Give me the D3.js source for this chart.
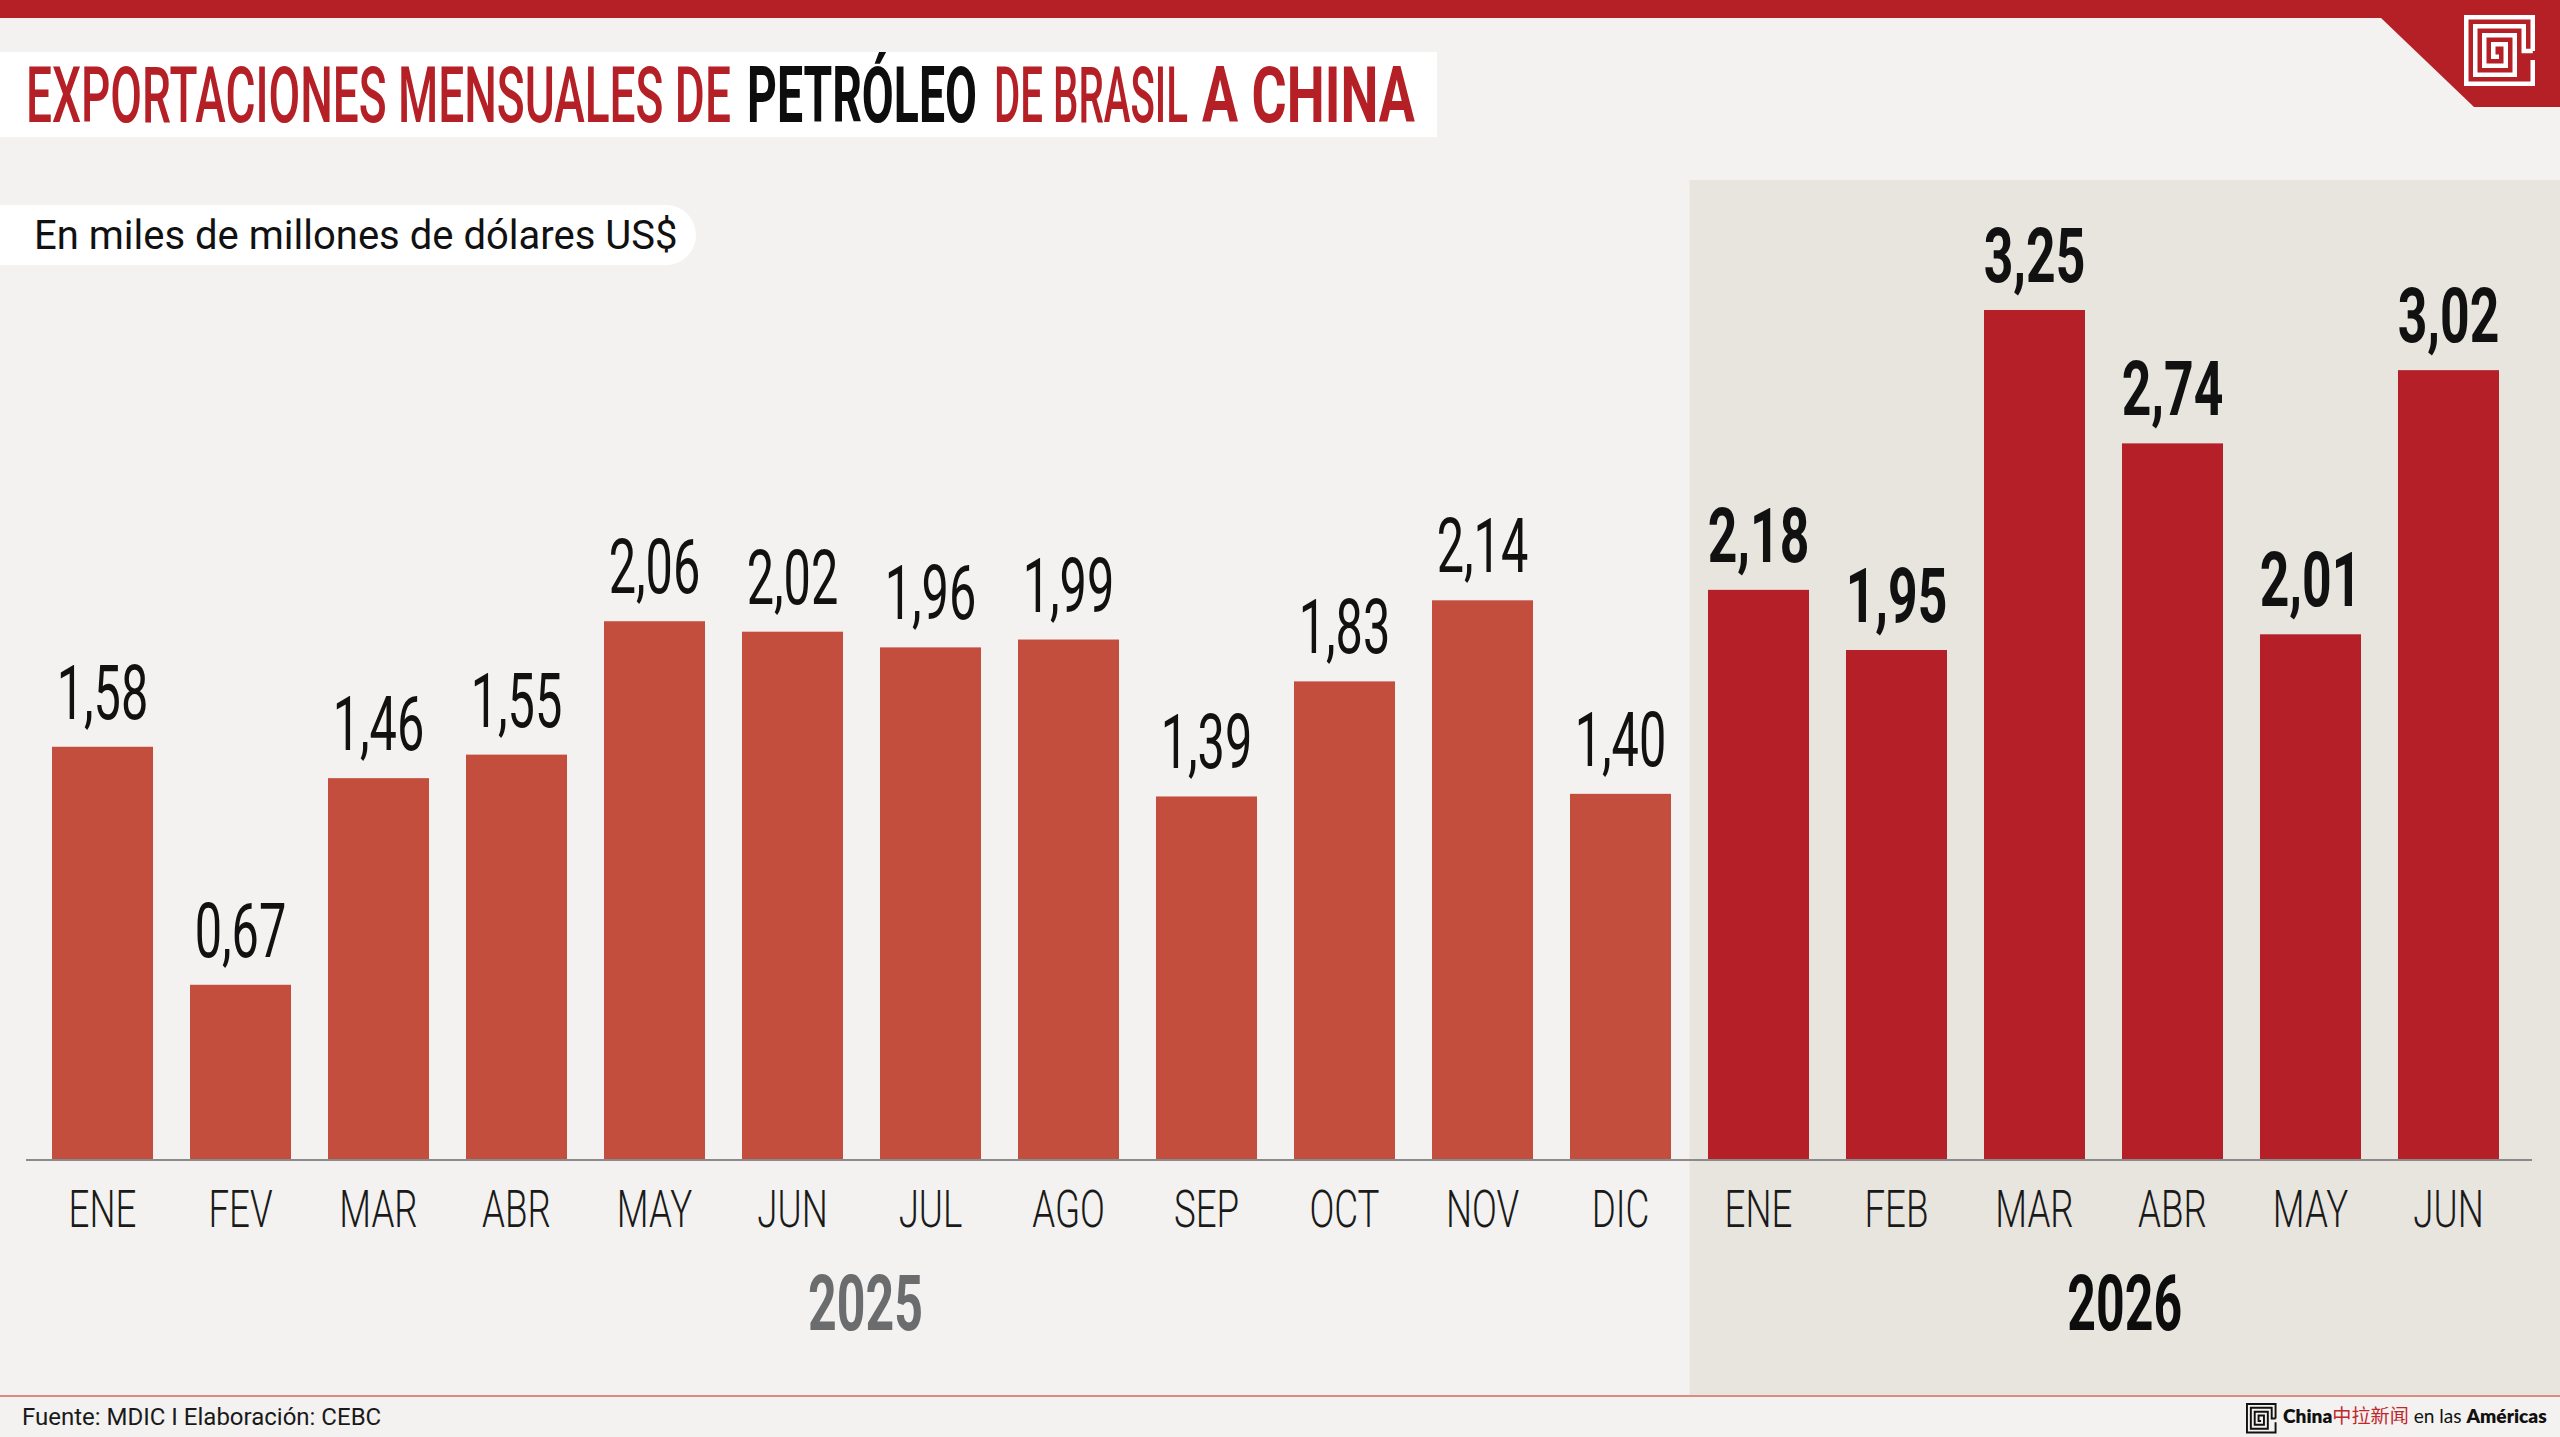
<!DOCTYPE html>
<html>
<head>
<meta charset="utf-8">
<script src="https://cdn.jsdelivr.net/npm/d3@7/dist/d3.min.js"></script>
<style>
  html, body { margin: 0; padding: 0; background: #f3f2f0; }
  svg { display: block; }
</style>
</head>
<body>
<div id="chart"></div>
<script>
const months2025 = ['ENE', 'FEV', 'MAR', 'ABR', 'MAY', 'JUN', 'JUL', 'AGO', 'SEP', 'OCT', 'NOV', 'DIC'];
const values2025 = [1.58, 0.67, 1.46, 1.55, 2.06, 2.02, 1.96, 1.99, 1.39, 1.83, 2.14, 1.40];
const months2026 = ['ENE', 'FEB', 'MAR', 'ABR', 'MAY', 'JUN'];
const values2026 = [2.18, 1.95, 3.25, 2.74, 2.01, 3.02];
const years = ['2025', '2026'];

const width = 2560;
const height = 1437;

const rows = [
  ...months2025.map((m, i) => ({ key: '2025-' + m, month: m, value: values2025[i], year: years[0] })),
  ...months2026.map((m, i) => ({ key: '2026-' + m, month: m, value: values2026[i], year: years[1] }))
];

const svg = d3.select('#chart')
  .append('svg')
  .attr('width', width)
  .attr('height', height);

svg.append('rect')
  .attr('width', width).attr('height', height)
  .attr('fill', '#f3f2f0');

// squeeze a text horizontally to a target width, anchored at its left edge
function fitWidth(sel, left, base, target) {
  sel.each(function () {
    const natural = this.getComputedTextLength();
    d3.select(this).attr('transform', `translate(${left},${base}) scale(${target / natural},1)`);
  });
}

// scales
const baseline = 1160;
const x = d3.scaleBand()
  .domain(rows.map(d => d.key))
  .range([52, 2499])
  .paddingInner(0.268)
  .paddingOuter(0);

const y = d3.scaleLinear()
  .domain([0, 3.25])
  .range([baseline, 310]);

const gap = x.step() - x.bandwidth();
const splitX = x(rows[months2025.length].key) - gap / 2;

// 2026 highlight panel
svg.append('rect')
  .attr('x', splitX).attr('y', 180)
  .attr('width', width - splitX).attr('height', 1215)
  .attr('fill', '#e8e5df');

// footer line
svg.append('line')
  .attr('x1', 0).attr('x2', width)
  .attr('y1', 1396).attr('y2', 1396)
  .attr('stroke', '#dd8a80').attr('stroke-width', 2);

// top band and corner
svg.append('rect')
  .attr('x', 0).attr('y', 0).attr('width', width).attr('height', 18)
  .attr('fill', '#b52027');
svg.append('polygon')
  .attr('points', '2380,17 2474,107 2560,107 2560,17')
  .attr('fill', '#b52027');

const mazePath = 'M68.75,36 V2.25 H2.25 V68.75 H68.75 V45 M68.75,36 H59.75 V11.25 H11.25 V59.75 H50.75 V20.25 H20.25 V50.75 H41.75 V29.25 H29.25 V41.75 H35';

svg.append('path')
  .attr('transform', 'translate(2464,15)')
  .attr('d', mazePath)
  .attr('fill', 'none')
  .attr('stroke', '#fff')
  .attr('stroke-width', 4.5);

// title
svg.append('rect')
  .attr('x', 0).attr('y', 52).attr('width', 1437).attr('height', 85)
  .attr('fill', '#fff');

const titleParts = [
  { t: 'EXPORTACIONES MENSUALES DE', x: 26, w: 705, c: '#b52027', fw: 500 },
  { t: 'PETRÓLEO', x: 747, w: 230, c: '#0d0d0d', fw: 700 },
  { t: 'DE BRASIL', x: 994, w: 194, c: '#b52027', fw: 500 },
  { t: 'A CHINA', x: 1202, w: 213, c: '#b52027', fw: 700 }
];
svg.selectAll('text.title')
  .data(titleParts)
  .enter()
  .append('text')
  .attr('class', 'title')
  .attr('font-family', 'Roboto')
  .attr('font-size', 77)
  .attr('font-weight', d => d.fw)
  .attr('fill', d => d.c)
  .text(d => d.t)
  .each(function (d) { fitWidth(d3.select(this), d.x, 122, d.w); });

// subtitle pill
svg.append('rect')
  .attr('x', -40).attr('y', 205).attr('width', 736).attr('height', 60)
  .attr('rx', 30)
  .attr('fill', '#fff');
svg.append('text')
  .attr('x', 34).attr('y', 249)
  .attr('font-family', 'Roboto')
  .attr('font-size', 40)
  .attr('fill', '#111')
  .text('En miles de millones de dólares US$');

// bars
svg.selectAll('rect.bar')
  .data(rows)
  .enter()
  .append('rect')
  .attr('class', 'bar')
  .attr('x', d => x(d.key))
  .attr('y', d => y(d.value))
  .attr('width', x.bandwidth())
  .attr('height', d => baseline - y(d.value))
  .attr('fill', d => d.year === years[0] ? '#c44e3e' : '#b51f28');

// axis line
svg.append('line')
  .attr('x1', 26).attr('x2', 2532)
  .attr('y1', baseline).attr('y2', baseline)
  .attr('stroke', '#8a8a8a').attr('stroke-width', 2);

// value labels
const fmt = v => d3.format('.2f')(v).replace('.', ',');
svg.selectAll('text.value')
  .data(rows)
  .enter()
  .append('text')
  .attr('class', 'value')
  .attr('transform', d => `translate(${x(d.key) + x.bandwidth() / 2},${y(d.value) - 28}) scale(${d.year === years[0] ? 0.64 : 0.68},1)`)
  .attr('text-anchor', 'middle')
  .attr('font-family', 'Roboto')
  .attr('font-size', 76)
  .attr('font-weight', d => d.year === years[0] ? 400 : 700)
  .attr('fill', '#111')
  .text(d => fmt(d.value));

// month labels
svg.selectAll('text.month')
  .data(rows)
  .enter()
  .append('text')
  .attr('class', 'month')
  .attr('transform', d => `translate(${x(d.key) + x.bandwidth() / 2},1227) scale(0.72,1)`)
  .attr('text-anchor', 'middle')
  .attr('font-family', 'Roboto')
  .attr('font-size', 51)
  .attr('font-weight', 300)
  .attr('fill', '#1a1a1a')
  .text(d => d.month);

// year labels
const firstKey = rows[0].key;
const lastKey2025 = rows[months2025.length - 1].key;
const yearPos = [
  (x(firstKey) + x(lastKey2025) + x.bandwidth()) / 2 + 4,
  (splitX + width) / 2
];
svg.selectAll('text.year')
  .data(years)
  .enter()
  .append('text')
  .attr('class', 'year')
  .attr('transform', (d, i) => `translate(${yearPos[i]},1330) scale(0.65,1)`)
  .attr('text-anchor', 'middle')
  .attr('font-family', 'Roboto')
  .attr('font-size', 77)
  .attr('font-weight', 700)
  .attr('fill', (d, i) => i === 0 ? '#6b6c6e' : '#0d0d0d')
  .text(d => d);

// footer
svg.append('text')
  .attr('x', 22).attr('y', 1425)
  .attr('font-family', 'Roboto')
  .attr('font-size', 24)
  .attr('fill', '#1a1a1a')
  .text('Fuente: MDIC I Elaboración: CEBC');

svg.append('path')
  .attr('transform', 'translate(2246,1403) scale(0.43)')
  .attr('d', mazePath)
  .attr('fill', 'none')
  .attr('stroke', '#111')
  .attr('stroke-width', 4.5);

const brand = svg.append('text')
  .attr('font-family', 'Lato, "Noto Sans"')
  .attr('font-size', 19)
  .attr('fill', '#111');
brand.append('tspan').attr('font-weight', 800).text('China');
brand.append('tspan').attr('font-family', '"Noto Sans CJK SC"').attr('fill', '#c0272d').text('中拉新闻');
brand.append('tspan').text(' en las ');
brand.append('tspan').attr('font-weight', 800).text('Américas');
fitWidth(brand, 2283, 1423, 264);
</script>
</body>
</html>
